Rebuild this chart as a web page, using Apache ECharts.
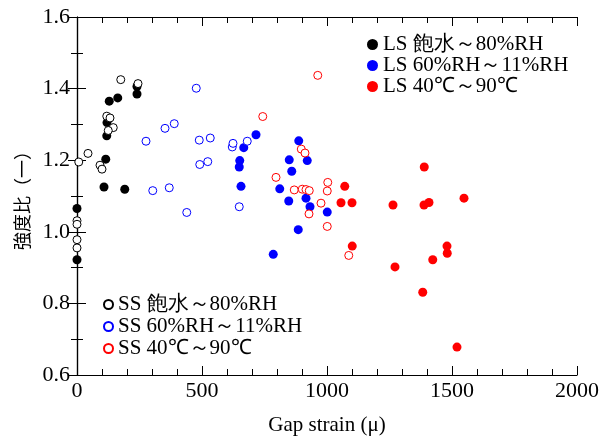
<!DOCTYPE html>
<html>
<head>
<meta charset="utf-8">
<script src="https://cdn.jsdelivr.net/npm/echarts@6/dist/echarts.min.js"></script>
<style>
  html, body { margin: 0; padding: 0; background: #fff; }
  #chart { width: 616px; height: 441px; }
</style>
</head>
<body>
<div id="chart"></div>
<script>
// [gap strain, strength ratio]
var lsSat = [[129,1.365],[163,1.374],[240,1.406],[240,1.385],[120,1.305],[119,1.268],[115,1.203],
  [108,1.125],[191,1.119],[0,1.065],[0,0.922]];
var lsMid = [[716,1.271],[667,1.235],[651,1.199],[649,1.181],[656,1.127],[785,0.937],[887,1.254],
  [849,1.201],[921,1.199],[859,1.169],[811,1.120],[847,1.086],[916,1.094],[932,1.070],[1001,1.055],[885,1.006]];
var lsHot = [[1389,1.181],[1071,1.127],[1056,1.081],[1100,1.081],[1264,1.075],[1388,1.075],[1408,1.082],
  [1548,1.094],[1101,0.960],[1480,0.960],[1481,0.940],[1423,0.922],[1272,0.902],[1383,0.831],[1520,0.678]];
var ssSat = [[175,1.425],[244,1.414],[119,1.323],[132,1.318],[145,1.291],[125,1.283],[44,1.219],[7,1.195],
  [92,1.186],[100,1.175],[0,1.031],[0,1.021],[0,0.978],[0,0.955]];
var ssMid = [[477,1.401],[389,1.302],[352,1.289],[276,1.253],[489,1.256],[533,1.262],[621,1.237],[624,1.247],
  [681,1.253],[491,1.188],[523,1.196],[303,1.115],[369,1.123],[439,1.054],[649,1.070]];
var ssHot = [[963,1.437],[743,1.322],[796,1.152],[897,1.231],[912,1.220],[869,1.117],[901,1.119],[916,1.118],
  [929,1.115],[1003,1.138],[1001,1.114],[976,1.080],[928,1.050],[1001,1.015],[1087,0.934]];

var lsNames = ['LS 飽水～80%RH', 'LS 60%RH～11%RH', 'LS 40℃～90℃'];
var ssNames = ['SS 飽水～80%RH', 'SS 60%RH～11%RH', 'SS 40℃～90℃'];
var colors = ['#000000', '#0000ff', '#ff0000'];

var font = 'Liberation Serif';

function filled(name, data, c) {
  return { name: name, type: 'scatter', data: data, symbol: 'circle', symbolSize: 9,
    itemStyle: { color: c, opacity: 1 }, xAxisIndex: 0, yAxisIndex: 0 };
}
function open(name, data, c) {
  return { name: name, type: 'scatter', data: data, symbol: 'circle', symbolSize: 8,
    itemStyle: { color: '#fff', borderColor: c, borderWidth: 1, opacity: 1 }, xAxisIndex: 0, yAxisIndex: 0 };
}

var chart = echarts.init(document.getElementById('chart'));

var tickCommon = { show: true, inside: true, length: 9, lineStyle: { color: '#000', width: 1 } };
var minorCommon = { show: true, length: 6, lineStyle: { color: '#000', width: 1 } };
var labelRich = { t: { fontFamily: font, fontSize: 22, color: '#000' } };

var option = {
  backgroundColor: '#fff',
  animation: false,
  textStyle: { fontFamily: font },
  grid: { left: 77, right: 39, top: 17, bottom: 64 },
  legend: [{
    data: lsNames, orient: 'vertical', left: 362, top: 29,
    itemWidth: 11, itemHeight: 11, itemGap: 0, icon: 'circle',
    textStyle: { fontFamily: font, fontSize: 21, color: '#000', lineHeight: 21 }
  }, {
    data: ssNames, orient: 'vertical', left: 98, top: 289,
    itemWidth: 9, itemHeight: 9, itemGap: 1, icon: 'circle',
    textStyle: { fontFamily: font, fontSize: 21, color: '#000', lineHeight: 21 }
  }],
  xAxis: [{
    type: 'value', min: 0, max: 2000, interval: 500, position: 'bottom',
    name: 'Gap strain (μ)', nameLocation: 'middle', nameGap: 40,
    nameTextStyle: { fontFamily: font, fontSize: 21, color: '#000' },
    axisLine: { show: true, lineStyle: { color: '#000', width: 1.2 } },
    axisTick: tickCommon, minorTick: Object.assign({ splitNumber: 5 }, minorCommon),
    axisLabel: { fontFamily: font, fontSize: 22, color: '#000', margin: 5, rich: labelRich,
      formatter: function (v) { return '{t|' + v + '}'; } },
    splitLine: { show: false }
  }, {
    type: 'value', min: 0, max: 2000, interval: 500, position: 'top',
    axisLine: { show: true, lineStyle: { color: '#000', width: 1.2 } },
    axisTick: tickCommon, minorTick: Object.assign({ splitNumber: 5 }, minorCommon),
    axisLabel: { show: false }, splitLine: { show: false }
  }],
  yAxis: [{
    type: 'value', min: 0.6, max: 1.6, interval: 0.2, position: 'left',
    name: '強度比（一）', nameLocation: 'middle', nameGap: 46, nameRotate: 90,
    nameTextStyle: { fontFamily: 'Noto Sans CJK JP', fontSize: 18, color: '#000' },
    axisLine: { show: true, lineStyle: { color: '#000', width: 1.2 } },
    axisTick: tickCommon, minorTick: Object.assign({ splitNumber: 2 }, minorCommon),
    axisLabel: { fontFamily: font, fontSize: 22, color: '#000', margin: 7, rich: labelRich,
      formatter: function (v) { return '{t|' + v.toFixed(1) + '}'; } },
    splitLine: { show: false }
  }, {
    type: 'value', min: 0.6, max: 1.6, interval: 0.2, position: 'right',
    axisLine: { show: true, lineStyle: { color: '#000', width: 1.2 } },
    axisTick: tickCommon, minorTick: Object.assign({ splitNumber: 2 }, minorCommon),
    axisLabel: { show: false }, splitLine: { show: false }
  }],
  series: [
    filled(lsNames[0], lsSat, colors[0]),
    filled(lsNames[1], lsMid, colors[1]),
    filled(lsNames[2], lsHot, colors[2]),
    open(ssNames[0], ssSat, colors[0]),
    open(ssNames[1], ssMid, colors[1]),
    open(ssNames[2], ssHot, colors[2])
  ]
};

chart.setOption(option);
window.addEventListener('resize', chart.resize);
</script>
</body>
</html>
